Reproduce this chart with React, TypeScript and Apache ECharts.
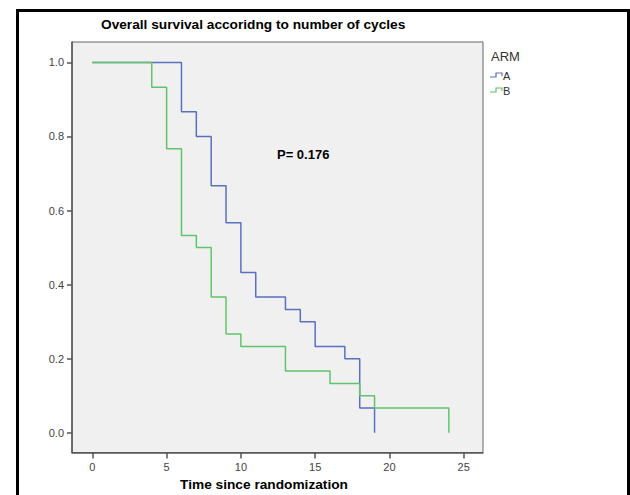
import React, { useEffect, useRef } from "react";
import * as echarts from "echarts";

const armATimes = [0, 6, 7, 8, 9, 10, 11, 13, 14, 15, 17, 18, 19];
const armASurvival = [1.0, 0.867, 0.8, 0.667, 0.567, 0.433, 0.367, 0.333, 0.3, 0.233, 0.2, 0.067, 0.0];
const armBTimes = [0, 4, 5, 6, 7, 8, 9, 10, 13, 16, 18, 19, 24];
const armBSurvival = [1.0, 0.933, 0.767, 0.533, 0.5, 0.367, 0.267, 0.233, 0.167, 0.133, 0.1, 0.067, 0.0];
const xTicks = [0, 5, 10, 15, 20, 25];
const yTicks = [0, 0.2, 0.4, 0.6, 0.8, 1.0];
const armNames = ["A", "B"];
const titleText = "Overall survival accoridng to number of cycles";
const xAxisTitle = "Time since randomization";
const pValueText = "P= 0.176";
const legendTitle = "ARM";

const BLUE = "#5b6fc0";
const GREEN = "#5fc46c";
const FONT = "Liberation Sans, Arial, sans-serif";

export default function App() {
  const ref = useRef<HTMLDivElement>(null);
  useEffect(() => {
    if (!ref.current) return;
    const chart = echarts.init(ref.current, undefined, { renderer: "svg" });
    const dataA = armATimes.map((t, i) => [t, armASurvival[i]]);
    const dataB = armBTimes.map((t, i) => [t, armBSurvival[i]]);
    chart.setOption({
      animation: false,
      backgroundColor: "#ffffff",
      textStyle: { fontFamily: FONT },
      title: {
        text: titleText,
        left: 101,
        top: 17,
        padding: 0,
        textStyle: { fontFamily: FONT, fontSize: 13.7, fontWeight: "bold", color: "#000" },
      },
      grid: {
        left: 72,
        top: 42,
        right: 147,
        bottom: 42.5,
        outerBoundsMode: "none",
        containLabel: false,
        show: true,
        backgroundColor: "#f0f0f0",
        borderColor: "#666",
        borderWidth: 1,
      },
      xAxis: {
        type: "value",
        min: -1.37,
        max: 26.3,
        name: xAxisTitle,
        nameLocation: "middle",
        nameGap: 24,
        nameTextStyle: {
          fontFamily: FONT,
          fontSize: 13.7,
          fontWeight: "bold",
          color: "#000",
          padding: [0, 27, 0, 0],
        },
        axisLine: { show: true, onZero: false, lineStyle: { color: "#555", width: 1.5 } },
        axisTick: { show: true, customValues: xTicks, length: 6, lineStyle: { color: "#555", width: 1.5 } },
        axisLabel: {
          customValues: xTicks,
          margin: 9,
          fontSize: 11,
          color: "#444",
          fontFamily: FONT,
        },
        splitLine: { show: false },
      },
      yAxis: {
        type: "value",
        min: -0.053,
        max: 1.055,
        axisLine: { show: true, onZero: false, lineStyle: { color: "#555", width: 1.5 } },
        axisTick: { show: true, customValues: yTicks, length: 5, lineStyle: { color: "#555", width: 1.5 } },
        axisLabel: {
          customValues: yTicks,
          margin: 8,
          fontSize: 11,
          color: "#444",
          fontFamily: FONT,
          formatter: (v: number) => v.toFixed(1),
        },
        splitLine: { show: false },
      },
      series: [
        {
          name: armNames[0],
          type: "line",
          step: "end",
          data: dataA,
          showSymbol: false,
          symbol: "none",
          lineStyle: { color: BLUE, width: 1.5 },
          itemStyle: { color: BLUE },
          z: 2,
        },
        {
          name: armNames[1],
          type: "line",
          step: "end",
          data: dataB,
          showSymbol: false,
          symbol: "none",
          lineStyle: { color: GREEN, width: 1.5 },
          itemStyle: { color: GREEN },
          z: 3,
        },
      ],
      graphic: [
        {
          type: "rect",
          shape: { x: 17.5, y: 10.5, width: 611, height: 500 },
          style: { fill: "none", stroke: "#000", lineWidth: 3 },
          silent: true,
          z: 100,
        },
        {
          type: "text",
          x: 277,
          y: 154,
          style: {
            text: pValueText,
            fontFamily: FONT,
            fontSize: 13,
            fontWeight: "bold",
            fill: "#000",
            verticalAlign: "middle",
            align: "left",
          },
        },
        {
          type: "text",
          x: 491,
          y: 56,
          style: {
            text: legendTitle,
            fontFamily: FONT,
            fontSize: 13,
            fill: "#333",
            verticalAlign: "middle",
            align: "left",
          },
        },
        {
          type: "polyline",
          shape: { points: [[490, 77], [496, 77], [496, 73], [502, 73], [502, 76]] },
          style: { stroke: BLUE, lineWidth: 1.2, fill: "none" },
        },
        {
          type: "text",
          x: 503,
          y: 75.5,
          style: {
            text: armNames[0],
            fontFamily: FONT,
            fontSize: 11,
            fill: "#333",
            verticalAlign: "middle",
            align: "left",
          },
        },
        {
          type: "polyline",
          shape: { points: [[490, 92], [496, 92], [496, 88], [502, 88], [502, 91]] },
          style: { stroke: GREEN, lineWidth: 1.2, fill: "none" },
        },
        {
          type: "text",
          x: 503,
          y: 90.5,
          style: {
            text: armNames[1],
            fontFamily: FONT,
            fontSize: 11,
            fill: "#333",
            verticalAlign: "middle",
            align: "left",
          },
        },
      ],
    });
    return () => chart.dispose();
  }, []);
  return <div ref={ref} style={{ width: 630, height: 495, position: "absolute", left: 0, top: 0 }} />;
}
